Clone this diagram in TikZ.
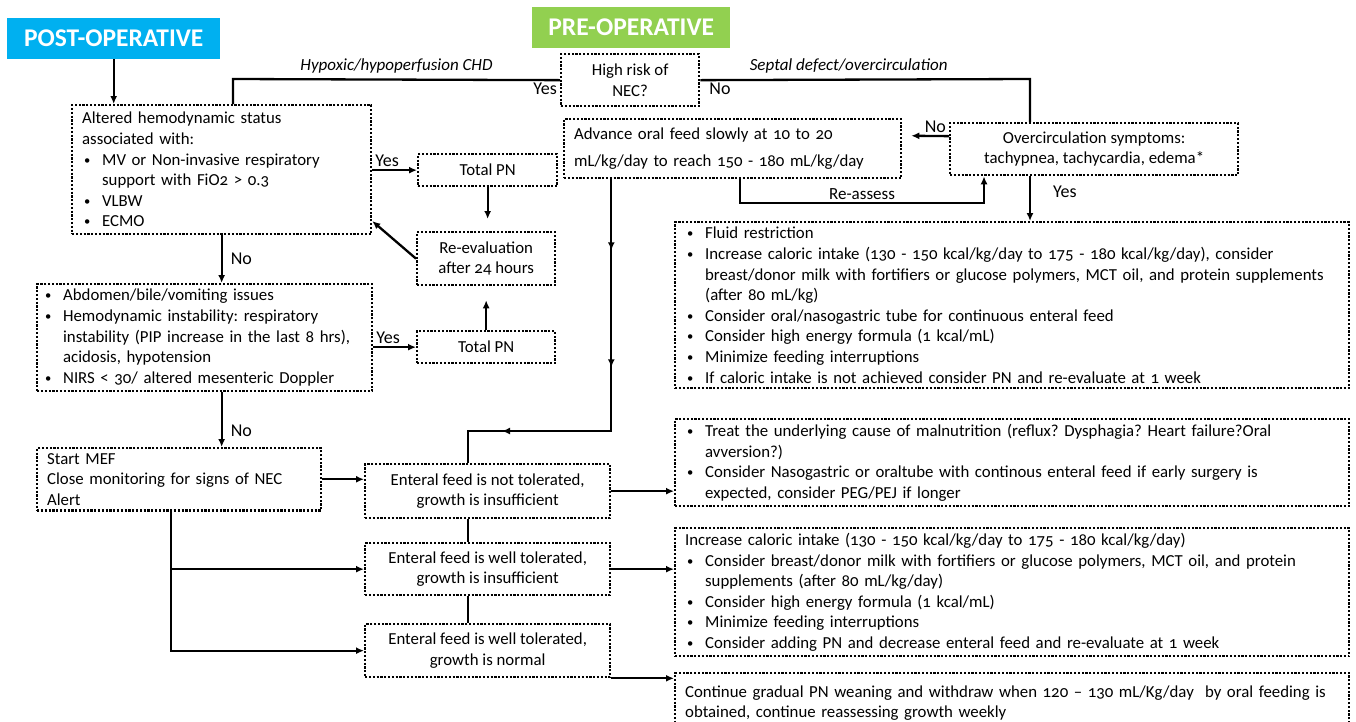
\documentclass[tikz,border=0pt]{standalone}
\usepackage{fontspec}
\setmainfont{Carlito}[Numbers=OldStyle]
\usetikzlibrary{arrows.meta, positioning, calc, decorations.markings}
\definecolor{postblue}{RGB}{0, 176, 240}
\definecolor{pregreen}{RGB}{146, 208, 80}
\definecolor{ink}{RGB}{0, 0, 0}
\frenchspacing
\newcommand{\bl}{\makebox[20pt][l]{\hspace{2pt}\raisebox{1pt}{\scalebox{0.75}{\textbullet}}}}
\newcommand{\ind}{\hspace*{20pt}}
\tikzset{
  font=\fontsize{16.8}{20.6}\selectfont,
  dotbox/.style={
    draw=ink, line width=2.3pt, dash pattern=on 2.2pt off 1.6pt,
    anchor=north west, inner xsep=10pt, inner ysep=5pt, align=center
  },
  listbox/.style={dotbox, align=left},
  phasebox/.style={
    anchor=north west, text=white, inner sep=0pt,
    font=\fontsize{25.5}{28}\selectfont\bfseries
  },
  flowline/.style={draw=ink, line width=2.3pt, -{Latex[length=8pt, width=7pt]}},
  joinline/.style={draw=ink, line width=2.3pt},
  midflow/.style={
    joinline, postaction={decorate},
    decoration={markings,
      mark=at position 71pt with {\arrow{Latex[length=8pt, width=7pt]}},
      mark=at position 188pt with {\arrow{Latex[length=8pt, width=7pt]}},
      mark=at position 361pt with {\arrow{Latex[length=8pt, width=7pt]}}}
  },
  answer/.style={font=\fontsize{18}{20}\selectfont, inner sep=2pt},
  pathway/.style={font=\fontsize{17}{20}\selectfont\itshape, inner sep=2pt}
}

\begin{document}
\begin{tikzpicture}[x=1pt, y=-1pt]
  \useasboundingbox (0,0) rectangle (1356,721);

  % Phase headers
  \node[phasebox, fill=postblue, minimum width=213pt, minimum height=41pt] (post) at (7,18) {POST-OPERATIVE};
  \node[phasebox, fill=pregreen, minimum width=198pt, minimum height=41pt] (pre) at (532,7) {PRE-OPERATIVE};

  % Entry decision
  \node[dotbox, minimum width=138pt, minimum height=52pt] (risk) at (560,53) {High risk of\\NEC?};

  % Post-operative column
  \node[listbox, text width=279pt, inner ysep=7pt] (hemo) at (71,104) {
    Altered hemodynamic status\\
    associated with:\\
    \bl MV or Non-invasive respiratory\\
    \ind support with FiO2 > 0.3\\
    \bl VLBW\\
    \bl ECMO
  };

  \node[listbox, text width=323pt, inner xsep=6pt] (instab) at (36,283) {
    \bl Abdomen/bile/vomiting issues\\
    \bl Hemodynamic instability: respiratory\\
    \ind instability (PIP increase in the last 8 hrs),\\
    \ind acidosis, hypotension\\
    \bl NIRS < 30/ altered mesenteric Doppler
  };

  \node[listbox, text width=264pt] (mef) at (36,447) {
    Start MEF\\
    Close monitoring for signs of NEC\\
    Alert
  };

  % Parenteral nutrition loop
  \node[dotbox, minimum width=139pt, minimum height=32pt] (pnA) at (417,153) {Total PN};
  \node[dotbox, minimum width=138pt, minimum height=53pt] (reeval) at (416,231) {Re-evaluation\\after 24 hours};
  \node[dotbox, minimum width=138pt, minimum height=32pt] (pnB) at (416,330) {Total PN};

  % Feed tolerance outcomes
  \node[dotbox, minimum width=245pt, minimum height=54pt] (nottol) at (364,463) {Enteral feed is not tolerated,\\growth is insufficient};
  \node[dotbox, minimum width=245pt, minimum height=52pt] (tolins) at (364,542) {Enteral feed is well tolerated,\\growth is insufficient};
  \node[dotbox, minimum width=245pt, minimum height=53pt] (tolok) at (364,623) {Enteral feed is well tolerated,\\growth is normal};

  % Pre-operative column
  \node[listbox, text width=317pt, minimum height=59pt] (advance) at (563,118) {
    Advance oral feed slowly at 10 to 20\\[6pt]
    mL/kg/day to reach 150 - 180 mL/kg/day
  };
  \node[dotbox, minimum width=288pt, minimum height=52pt] (overcirc) at (949,122) {Overcirculation symptoms:\\tachypnea, tachycardia, edema*};

  % Management boxes (right column)
  \node[listbox, text width=654pt] (fluid) at (674,221) {
    \bl Fluid restriction\\
    \bl Increase caloric intake (130 - 150 kcal/kg/day to 175 - 180 kcal/kg/day), consider\\
    \ind breast/donor milk with fortifiers or glucose polymers, MCT oil, and protein supplements\\
    \ind (after 80 mL/kg)\\
    \bl Consider oral/nasogastric tube for continuous enteral feed\\
    \bl Consider high energy formula (1 kcal/mL)\\
    \bl Minimize feeding interruptions\\
    \bl If caloric intake is not achieved consider PN and re-evaluate at 1 week
  };

  \node[listbox, text width=654pt] (treat) at (674,418) {
    \bl Treat the underlying cause of malnutrition (reflux? Dysphagia? Heart failure?Oral\\
    \ind avversion?)\\
    \bl Consider Nasogastric or oraltube with continous enteral feed if early surgery is\\
    \ind expected, consider PEG/PEJ if longer
  };

  \node[listbox, text width=654pt] (caloric) at (674,527) {
    Increase caloric intake (130 - 150 kcal/kg/day to 175 - 180 kcal/kg/day)\\
    \bl Consider breast/donor milk with fortifiers or glucose polymers, MCT oil, and protein\\
    \ind supplements (after 80 mL/kg/day)\\
    \bl Consider high energy formula (1 kcal/mL)\\
    \bl Minimize feeding interruptions\\
    \bl Consider adding PN and decrease enteral feed and re-evaluate at 1 week
  };

  \node[listbox, text width=654pt, minimum height=60pt] (wean) at (674,672) {
    Continue gradual PN weaning and withdraw when 120 -- 130 mL/Kg/day\ \ by oral feeding is\\
    obtained, continue reassessing growth weekly
  };

  % Turning points
  \coordinate (hypo) at (233,79);
  \coordinate (septal) at (1030,79);
  \coordinate (reA) at (740,203);
  \coordinate (reB) at (984,203);
  \coordinate (feedturn) at (468,431);
  \coordinate (branch) at (171,647);

  % Entry branches
  \draw[flowline] (post.south) -- (post.south |- hemo.north);
  \draw[joinline] (risk.west) -- node[answer, pos=0, anchor=north east] {Yes} node[pathway, above=3pt] {Hypoxic/hypoperfusion CHD} (hypo) -- (hypo |- hemo.north);
  \draw[joinline] (risk.east) -- node[answer, pos=0, anchor=north west, xshift=6pt] {No} node[pathway, above=3pt, pos=0.45] {Septal defect/overcirculation} (septal) -- (septal |- overcirc.north);

  % Pre-operative flow
  \draw[flowline] (septal |- overcirc.south) -- node[answer, right=20pt, pos=0.35] {Yes} (septal |- fluid.north);
  \draw[flowline, shorten >=9pt] ([yshift=13pt]overcirc.west) -- node[answer, pos=0, anchor=south east] {No} ([yshift=13pt]advance.east);
  \draw[flowline] (advance.south -| reA) -- (reA) -- node[above, inner sep=2pt, font=\fontsize{17}{20}\selectfont] {Re-assess} (reB) -- (reB |- overcirc.south);
  \draw[midflow] (advance.south -| nottol.east) |- (feedturn) -- (feedturn |- nottol.north);

  % Post-operative flow
  \draw[flowline] (hemo.east |- pnA.west) -- node[answer, pos=0, anchor=south west] {Yes} (pnA.west);
  \draw[flowline, shorten >=12pt] (pnA.south) -- (pnA.south |- reeval.north);
  \draw[flowline] (reeval.west) -- ([yshift=14pt]hemo.south east);
  \draw[flowline] (hemo.south) -- node[answer, right=6pt] {No} (hemo.south |- instab.north);
  \draw[flowline] (instab.east |- pnB.west) -- node[answer, pos=0, anchor=south west] {Yes} (pnB.west);
  \draw[flowline, shorten >=14pt] (pnB.north) -- (pnB.north |- reeval.south);
  \draw[flowline] (hemo.south |- instab.south) -- node[answer, right=6pt, pos=0.7] {No} (hemo.south |- mef.north);

  % Tolerance outcomes
  \draw[flowline] (mef.east) -- (mef.east -| nottol.west);
  \draw[flowline] (mef.south -| branch) |- (tolok.west);
  \draw[flowline] (branch |- tolins.west) -- (tolins.west);
  \draw[joinline] (feedturn |- nottol.south) -- (feedturn |- tolins.north);
  \draw[joinline] (feedturn |- tolins.south) -- (feedturn |- tolok.north);

  % Into management boxes
  \draw[flowline] (nottol.east) -- (nottol.east -| treat.west);
  \draw[flowline] (tolins.east) -- (tolins.east -| caloric.west);
  \draw[flowline] (tolok.south east) -- (tolok.south east -| wean.west);
\end{tikzpicture}
\end{document}
